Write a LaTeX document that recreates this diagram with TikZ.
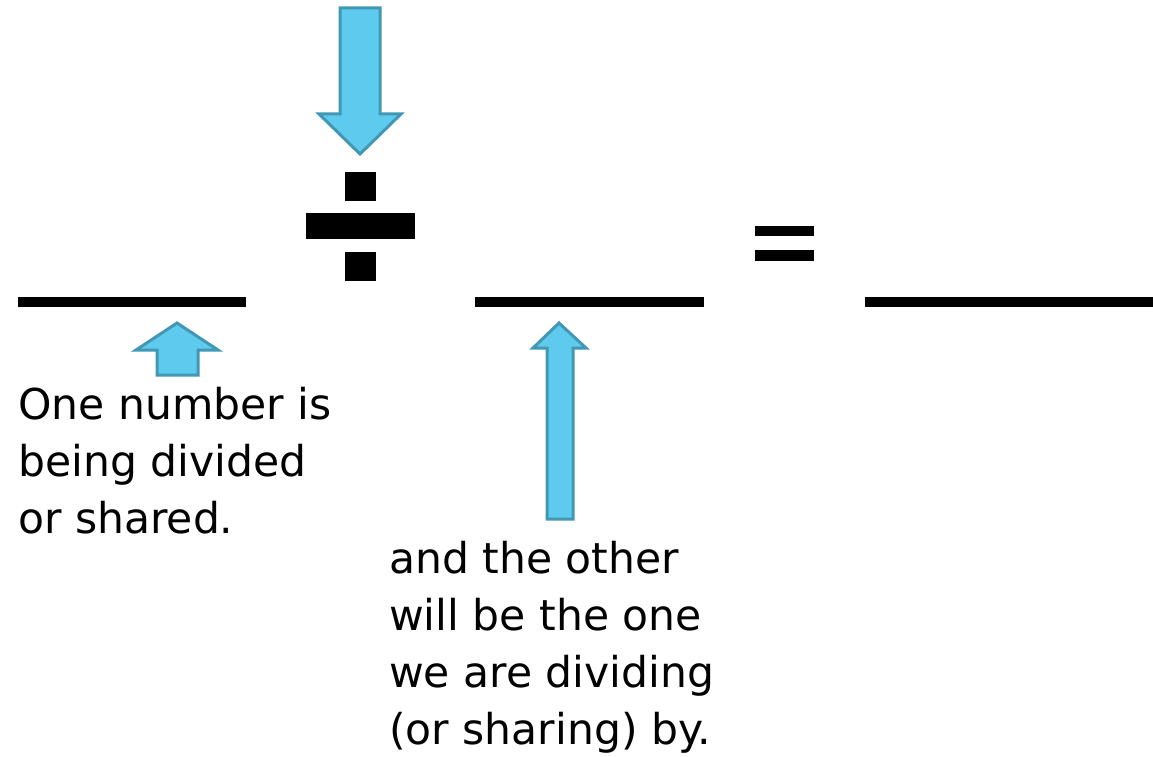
\documentclass[tikz,border=0pt]{standalone}
\usepackage{fontspec}
\setmainfont{DejaVu Sans}
\definecolor{arrowfill}{RGB}{94,202,238}
\definecolor{arrowline}{RGB}{66,152,180}
\tikzset{
  bluearrow/.style={fill=arrowfill, draw=arrowline, line width=3pt, line join=miter},
  blackbar/.style={fill=black, draw=none},
  label/.style={anchor=base west, inner sep=0pt, align=left, font=\fontsize{42.5}{57}\selectfont}
}
\begin{document}
\begin{tikzpicture}[x=1pt,y=-1pt]
\useasboundingbox (0,0) rectangle (1153,757);
\fill[white] (0,0) rectangle (1153,757);
% answer lines
\fill[blackbar] (18,297) rectangle (246,307);
\fill[blackbar] (475,297) rectangle (704,307);
\fill[blackbar] (865,297) rectangle (1153,307);
% division sign
\fill[blackbar] (345,172) rectangle (376,201);
\fill[blackbar] (306,213) rectangle (415,239);
\fill[blackbar] (345,252) rectangle (376,281);
% equals sign
\fill[blackbar] (755,226) rectangle (814,236);
\fill[blackbar] (755,250) rectangle (814,261);
% down arrow
\draw[bluearrow] (340,8) -- (380,8) -- (380,114) -- (401,114) -- (360,154) -- (319,114) -- (340,114) -- cycle;
% small up arrow
\draw[bluearrow] (177,323) -- (218,350) -- (198,350) -- (198,375) -- (157,375) -- (157,350) -- (136,350) -- cycle;
% long up arrow
\draw[bluearrow] (559,323) -- (586,348) -- (573,348) -- (573,519) -- (547,519) -- (547,348) -- (533,348) -- cycle;
% texts (base anchor = last line's baseline)
\node[label] (t1) at (18,533) {One number is\\being divided\\or shared.};
\node[label] (t2) at (389,744) {and the other\\will be the one\\we are dividing\\(or sharing) by.};
\end{tikzpicture}
\end{document}
